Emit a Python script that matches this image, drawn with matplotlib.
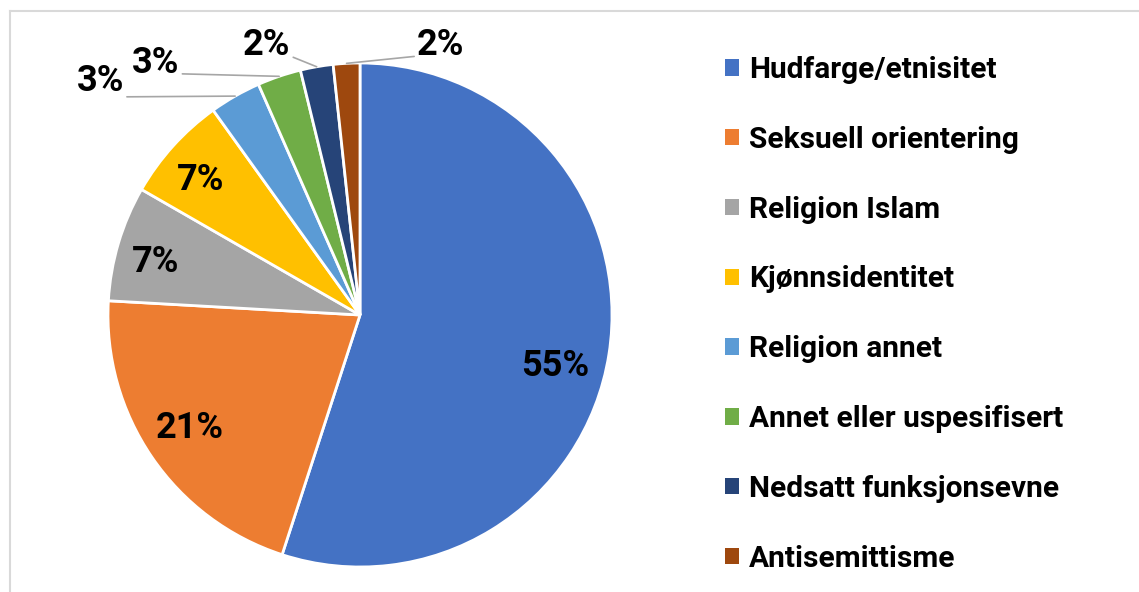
import matplotlib
matplotlib.use("Agg")
import matplotlib.pyplot as plt
import numpy as np
from matplotlib.patches import Patch
from matplotlib.lines import Line2D

plt.rcParams['font.family'] = ['Roboto', 'DejaVu Sans']
plt.rcParams['font.weight'] = 'bold'

# data (percent of reported cases)
categories = ["Hudfarge/etnisitet", "Seksuell orientering", "Religion Islam",
              "Kjønnsidentitet", "Religion annet", "Annet eller uspesifisert",
              "Nedsatt funksjonsevne", "Antisemittisme"]
shares = [55.0, 20.9, 7.4, 6.8, 3.3, 2.8, 2.1, 1.7]
colors = ["#4472C4", "#ED7D31", "#A5A5A5", "#FFC000",
          "#5B9BD5", "#70AD47", "#264478", "#9E480E"]

# label placement: inside labels at (radius, angle), outside ones get leader lines
inside_pos = {0: (0.80, -14.6), 1: (0.81, 213.6), 2: (0.84, 165.5), 3: (0.83, 139.8)}
outside_text = {4: (-1.03, 0.93), 5: (-0.81, 1.00), 6: (-0.37, 1.07), 7: (0.32, 1.07)}
outside_relpos = {4: (1, 0.05), 5: (1, 0.2), 6: (1, 0.2), 7: (0, 0.2)}

W, H = 1139, 592
fig = plt.figure(figsize=(W / 100, H / 100), dpi=100)

# light chart frame (left and top edges visible)
fig.add_artist(Line2D([9.5 / W, 9.5 / W], [0, 1 - 10.5 / H], transform=fig.transFigure,
                      color="#D9D9D9", lw=1.5))
fig.add_artist(Line2D([9.5 / W, 1], [1 - 10.5 / H, 1 - 10.5 / H], transform=fig.transFigure,
                      color="#D9D9D9", lw=1.5))

cx, cy, R = 360, 315, 252
ax = fig.add_axes([(cx - R) / W, (H - cy - R) / H, 2 * R / W, 2 * R / H])

wedges, _ = ax.pie(shares, colors=colors, startangle=90, counterclock=False,
                   radius=1.0, wedgeprops=dict(edgecolor="white", linewidth=2))
ax.set_xlim(-1, 1)
ax.set_ylim(-1, 1)
ax.set_aspect("equal")
ax.axis("off")

for i, w in enumerate(wedges):
    pct = "%d%%" % round(shares[i])
    mid = np.deg2rad((w.theta1 + w.theta2) / 2)
    if i in inside_pos:
        r, ang = inside_pos[i]
        a = np.deg2rad(ang)
        ax.text(r * np.cos(a), r * np.sin(a), pct, ha="center", va="center",
                fontsize=26, fontweight="bold", color="black")
    else:
        ax.annotate(pct, xy=(np.cos(mid), np.sin(mid)), xytext=outside_text[i],
                    ha="center", va="center", fontsize=26, fontweight="bold",
                    arrowprops=dict(arrowstyle="-", color="#A6A6A6", lw=1.2,
                                    relpos=outside_relpos[i], shrinkA=0, shrinkB=0))

handles = [Patch(facecolor=c, edgecolor="none") for c in colors]
fig.legend(handles, categories, loc="upper left", bbox_to_anchor=(725 / W, 1 - 56 / H),
           frameon=False, prop=dict(size=21.5, weight="bold"), handlelength=0.47,
           handleheight=0.47, handletextpad=0.33, labelspacing=1.40, borderpad=0,
           borderaxespad=0)

fig.savefig("out.png", dpi=100)
